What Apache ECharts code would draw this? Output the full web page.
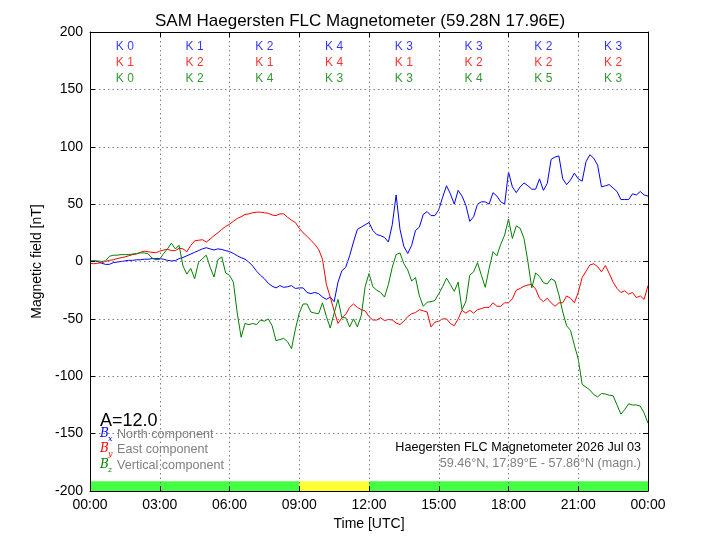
<!DOCTYPE html>
<html><head><meta charset="utf-8">
<script src="https://cdn.jsdelivr.net/npm/echarts@6/dist/echarts.min.js"></script>
<style>html,body{margin:0;padding:0;background:#fff}#c{width:720px;height:540px}</style>
</head><body><div id="c"></div>
<script>
// 10-minute samples, 00:00 .. 24:00
const STEP_HOURS = 1 / 6;
const northBx = [0,0.5,0,-1.5,-2.5,-2.5,-1,-0.5,0,0.5,1,1,1.5,1.5,2,2,2.5,2.5,2.5,2,1,0.5,0.8,2.5,3.5,5,6.5,8,9.5,11,12,11,10,11,10.5,9.5,8.7,7,5,3.3,2,-0.5,-4,-8.5,-12,-15,-19,-21.5,-23,-21,-22.5,-22,-21,-23.5,-23,-23,-27,-28,-27,-28,-31,-33,-31,-35,-18,-8,-5,5,17,28,30,32,34,27,23.5,22.5,21,17,32,58,28,13,7,14,27,30,41,43.5,40,40,45,56,66,59,50,62,57,49,35,39,50,52,52,50,60,57,52,50,78,65,60,65,68.5,66,63,63,72,62,68,89,91,92,72,67,71,77,72,70,87,93,90,84,65,66,67,64,61,54,54,54,59,58,61,58,57];
const eastBy = [-1.5,-2,-1.5,-1,0,1,1.5,2.5,3.3,4,5,6,6.5,8,9,8.5,8,7.7,9,10,10.6,9.5,9.5,11.5,11,8.5,14,18,18.5,19,17,19.5,22.5,25,28,30.5,32.5,35,37.5,39,41,41.5,42.5,43,43,42.5,42,40.5,40,41.5,41.5,38.5,36,34,29,25,22,18.5,15,10.5,2,-20,-31,-43,-54,-49,-46,-40,-37,-40,-42,-43,-48,-51,-51,-49,-51.5,-50.5,-51,-53.5,-55,-52,-48,-45.5,-44.5,-42,-43,-44,-57,-53,-52,-50,-50,-54,-56,-50,-42.5,-45,-42.5,-45,-42,-41,-40,-40,-36,-39,-39,-36,-36,-32.5,-25,-23.5,-21.5,-20.5,-20,-24,-32,-35,-32,-36,-39,-36,-36,-30,-32,-36,-27,-14,-8.5,-3,-2,-4.5,-9,-3.5,-10.5,-18,-23.5,-27,-25.5,-28.5,-27,-31.5,-30,-33,-21];
const verticalBz = [0.5,0.5,0.5,0,0.5,4.5,5.5,5.5,6,6,6,6.5,7,7.5,7.5,6.7,3,1.5,2,7,11,16,11,14,-4,-11,-6,-15,-1,2.5,5.5,-5,-13.5,1.5,4,-10,-12,-18,-45,-66,-54,-55,-54,-55,-51,-52,-50,-56,-69,-68,-67,-70,-76,-59,-45,-37,-37,-44,-45,-45.5,-36,-48,-58,-45,-33,-49,-49,-57,-50,-57,-47,-22,-10.5,-22,-25,-27,-31,-20,-5,6,7.5,-2,-7.5,-17,-14,-30,-39,-35.5,-35,-34,-28,-22,-14.5,-20,-26,-18,-42,-35,-12,-9,-1,-12,-22.5,-6,8.5,5,15,23,37,20,31,29,20,0,-23,-10,-13,-18.5,-19.5,-15,-17,-29,-44,-56,-60,-73,-85,-107,-109.5,-112,-116,-118,-115,-115.5,-116.5,-117,-125,-133,-129,-124,-125,-125,-126,-132,-141];
// K indices per 3-hour block
const kNorth = [0,1,2,4,3,3,2,3];
const kEast = [1,2,1,4,1,2,2,2];
const kVertical = [0,2,4,3,3,4,5,3];
// activity bar segments [startHour, endHour, level]
const activityBlocks = [[0,9,'quiet'],[9,12,'active'],[12,24,'quiet']];

const FONT = 'Liberation Sans, Arial, sans-serif';
const toPairs = arr => arr.map((v,i)=>[i*STEP_HOURS, v]);
const fmtHour = h => { const hh = Math.round(h) % 24; return (hh<10?'0':'')+hh+':00'; };

const chart = echarts.init(document.getElementById('c'), null, {renderer:'canvas'});

const axisCommonX = {
  type:'value', min:0, max:24, interval:3,
  axisLine:{show:true, onZero:false, lineStyle:{color:'#000', width:1}},
  axisTick:{show:true, inside:true, length:5, lineStyle:{color:'#000'}},
  z: 10
};
const axisCommonY = {
  type:'value', min:-200, max:200, interval:50,
  axisLine:{show:true, onZero:false, lineStyle:{color:'#000', width:1}},
  axisTick:{show:true, inside:true, length:5, lineStyle:{color:'#000'}},
  z: 10
};
const kRowY = [187, 173, 159];
function kSeries(arr, row, color){
  return {
    type:'scatter', symbolSize:0, silent:true, z:5,
    data: arr.map((k,i)=>[i*3+1.5, kRowY[row], k]),
    label:{show:true, position:'inside', color:color, fontFamily:FONT, fontSize:12,
      formatter: p => 'K ' + p.value[2]}
  };
}
const activityColor = {quiet:'#44ff44', active:'#ffff33'};

function legendRow(top, sub, color, text){
  return [
    {type:'text', left:100, top:top, z:20, style:{text:'B', fontFamily:'DejaVu Serif', fontStyle:'italic', fontSize:12, fill:color}},
    {type:'text', left:108, top:top+7, z:20, style:{text:sub, fontFamily:'DejaVu Serif', fontStyle:'italic', fontSize:8, fill:color}},
    {type:'text', left:117, top:top, z:20, style:{text:text, fontFamily:FONT, fontSize:12.6, fill:'#808080'}}
  ];
}

chart.setOption({
  animation:false,
  backgroundColor:'#fff',
  title:{text:'SAM Haegersten FLC Magnetometer (59.28N 17.96E)', left:'center', top:8,
    textStyle:{fontFamily:FONT, fontSize:17, fontWeight:'normal', color:'#000'}},
  grid:{left:90, right:72, top:32, bottom:49},
  xAxis:[
    Object.assign({}, axisCommonX, {position:'bottom',
      name:'Time [UTC]', nameLocation:'middle', nameGap:24,
      nameTextStyle:{fontFamily:FONT, fontSize:14, color:'#000'},
      axisLabel:{show:true, margin:7, color:'#000', fontFamily:FONT, fontSize:14, formatter:fmtHour},
      splitLine:{show:true, lineStyle:{color:'#808080', type:[1.5,3], width:1}}}),
    Object.assign({}, axisCommonX, {position:'top', axisLabel:{show:false}, splitLine:{show:false}})
  ],
  yAxis:[
    Object.assign({}, axisCommonY, {position:'left',
      name:'Magnetic field [nT]', nameLocation:'middle', nameGap:44,
      nameTextStyle:{fontFamily:FONT, fontSize:14, color:'#000'},
      axisLabel:{show:true, margin:7, color:'#000', fontFamily:FONT, fontSize:14},
      splitLine:{show:true, lineStyle:{color:'#808080', type:[1.5,3], width:1}}}),
    Object.assign({}, axisCommonY, {position:'right', axisLabel:{show:false}, splitLine:{show:false}})
  ],
  series:[
    {type:'line', name:'North', data:toPairs(northBx), showSymbol:false, lineStyle:{color:'#0000ff', width:1}, itemStyle:{color:'#0000ff'}, z:3,
      markArea:{silent:true, data: activityBlocks.map(b=>[{xAxis:b[0], yAxis:-200, itemStyle:{color:activityColor[b[2]], opacity:1}},{xAxis:b[1], yAxis:-191.5}])}},
    {type:'line', name:'East', data:toPairs(eastBy), showSymbol:false, lineStyle:{color:'#ff0000', width:1}, itemStyle:{color:'#ff0000'}, z:3},
    {type:'line', name:'Vertical', data:toPairs(verticalBz), showSymbol:false, lineStyle:{color:'#008000', width:1}, itemStyle:{color:'#008000'}, z:3},
    kSeries(kNorth, 0, '#0000ff'),
    kSeries(kEast, 1, '#ff0000'),
    kSeries(kVertical, 2, '#008000')
  ],
  graphic:[
    {type:'text', left:100, top:412, z:20, style:{text:'A=12.0', fontFamily:FONT, fontSize:18, fill:'#000'}}
  ].concat(
    legendRow(428, 'x', '#0000ff', 'North component'),
    legendRow(443, 'y', '#ff0000', 'East component'),
    legendRow(459, 'z', '#008000', 'Vertical component'),
    [
      {type:'text', right:79, top:441, z:20, style:{text:'Haegersten FLC Magnetometer 2026 Jul 03', fontFamily:FONT, fontSize:12.6, fill:'#000'}},
      {type:'text', right:79, top:457, z:20, style:{text:'59.46°N, 17.89°E - 57.86°N (magn.)', fontFamily:FONT, fontSize:12.6, fill:'#808080'}}
    ])
});
</script></body></html>
